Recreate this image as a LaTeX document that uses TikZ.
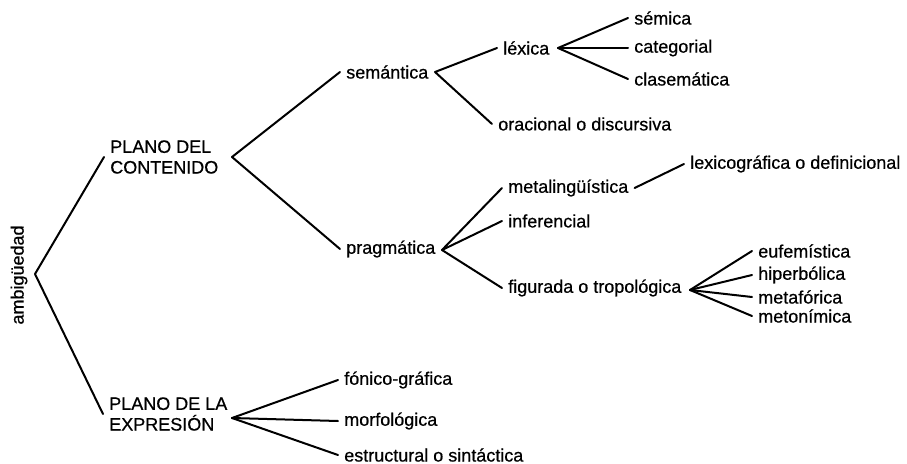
\documentclass[tikz,border=0pt]{standalone}
\usepackage{fontspec}
\setmainfont{Liberation Sans}[FakeBold=0.6]
\begin{document}
\begin{tikzpicture}[x=0.75pt,y=-0.75pt,
  lbl/.style={anchor=west,inner xsep=4.5pt,inner ysep=0pt,align=left,
    font=\fontsize{13.5}{15.5}\selectfont},
  edge/.style={line width=1.5pt,line cap=round,line join=round}]
\useasboundingbox (0,0) rectangle (907,464);
% texts
\node[font=\fontsize{13.5}{15.5}\selectfont,rotate=90,inner sep=0pt] (ambig) at (19,275) {ambigüedad};
\node[lbl] (cont) at (104,157) {PLANO DEL\\CONTENIDO};
\node[lbl] (expr) at (103,414) {PLANO DE LA\\EXPRESIÓN};
\node[lbl] (sem) at (340,72) {semántica};
\node[lbl] (prag) at (340,249) {pragmática};
\node[lbl] (lex) at (497,48) {léxica};
\node[lbl] (orac) at (492,124) {oracional o discursiva};
\node[lbl] (semica) at (628,18) {sémica};
\node[lbl] (categ) at (628,48) {categorial};
\node[lbl] (clasem) at (628,79) {clasemática};
\node[lbl] (meta) at (502,188) {metalingüística};
\node[lbl] (infer) at (502,221) {inferencial};
\node[lbl] (figur) at (502,288) {figurada o tropológica};
\node[lbl] (lexico) at (684,164) {lexicográfica o definicional};
\node[lbl] (eufem) at (752,251) {eufemística};
\node[lbl] (hiper) at (752,275) {hiperbólica};
\node[lbl] (metaf) at (752,297) {metafórica};
\node[lbl] (meton) at (752,316) {metonímica};
\node[lbl] (fonico) at (338,380) {fónico-gráfica};
\node[lbl] (morfo) at (338,421) {morfológica};
\node[lbl] (estruc) at (338,455) {estructural o sintáctica};
% branching points
\coordinate (r0) at (35,274);
\coordinate (vC) at (232,157);
\coordinate (vE) at (232,418);
\coordinate (vS) at (435,72);
\coordinate (vP) at (442,250);
\coordinate (vL) at (558,48);
\coordinate (vF) at (690,290);
% connectors
\draw[edge] (cont.west) -- (r0) -- (expr.west);
\draw[edge] (sem.west) -- (vC) -- (prag.west);
\draw[edge] (lex.west) -- (vS) -- (orac.west);
\draw[edge] (vL) -- (semica.west);
\draw[edge] (vL) -- (categ.west);
\draw[edge] (vL) -- (clasem.west);
\draw[edge] (vP) -- (meta.west);
\draw[edge] (vP) -- (infer.west);
\draw[edge] (vP) -- (figur.west);
\draw[edge] (meta.east) -- (lexico.west);
\draw[edge] (vF) -- (eufem.west);
\draw[edge] (vF) -- (hiper.west);
\draw[edge] (vF) -- (metaf.west);
\draw[edge] (vF) -- (meton.west);
\draw[edge] (vE) -- (fonico.west);
\draw[edge] (vE) -- (morfo.west);
\draw[edge] (vE) -- (estruc.west);
\end{tikzpicture}
\end{document}
